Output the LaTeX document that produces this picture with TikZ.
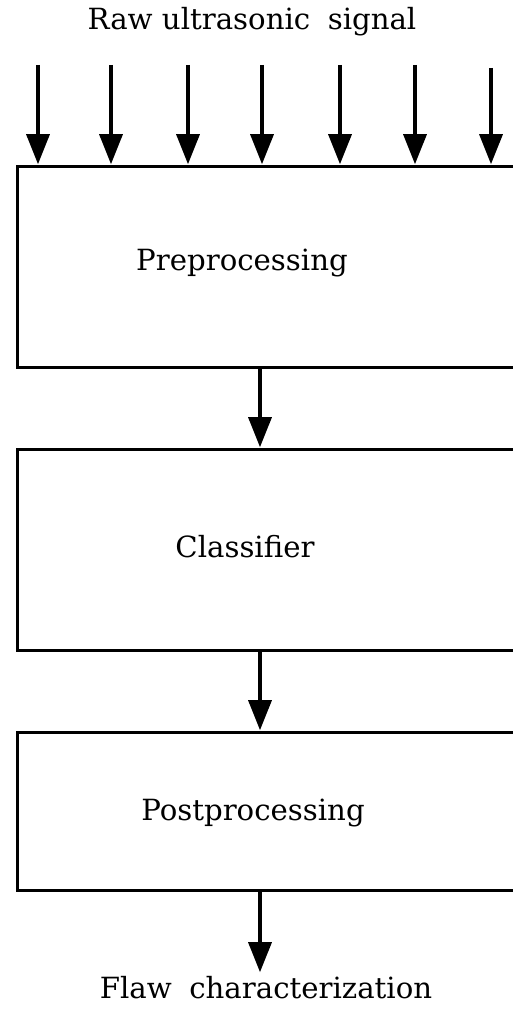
\documentclass[tikz,border=0pt]{standalone}
\usepackage{fontspec}
\setmainfont{DejaVu Serif}
\usetikzlibrary{arrows.meta}
\begin{document}
\begin{tikzpicture}[x=0.5pt,y=-0.5pt,
  stage/.style={draw, line width=1.7pt, minimum width=257pt, minimum height=100.5pt,
                inner sep=0pt, anchor=north west},
  caption/.style={font=\fontsize{14.6}{17}\selectfont, inner sep=0pt, anchor=base},
  flow/.style={line width=1.7pt, -{Triangle[length=15pt,width=11.5pt]}, shorten >=0.4pt}]
\useasboundingbox (0,0) rectangle (513,1011);
\clip (0,0) rectangle (513,1011);

% processing stages (right edge runs past the frame)
\node[stage] (pre)  at (16,165) {};
\node[stage, minimum height=100.5pt] (cls)  at (16,448) {};
\node[stage, minimum height=79pt] (post) at (16,731) {};

\node[caption] (tpre)  at (242,270) {Preprocessing};
\node[caption] (tcls)  at (245,557) {Classifier};
\node[caption] (tpost) at (253,820) {Postprocessing};

% input and output texts
\node[caption] (raw)  at (252,30)  {Raw ultrasonic\hspace{0.6em}signal};
\node[caption] (flaw) at (266,998) {Flaw\hspace{0.6em}characterization};

% parallel signal inputs
\foreach \i/\x/\y in {1/38/65, 2/111/65, 3/188/65, 4/262/65, 5/340/65, 6/415/65, 7/491/68}{
  \coordinate (in\i) at (\x,\y);
  \draw[flow] (in\i) -- (pre.north -| in\i);
}

% chain between stages
\coordinate (axis) at (260,0);
\coordinate (out) at (260,973);
\draw[flow] (pre.south -| axis) -- (cls.north -| axis);
\draw[flow] (cls.south -| axis) -- (post.north -| axis);
\draw[flow] (post.south -| axis) -- (out);
\end{tikzpicture}
\end{document}
